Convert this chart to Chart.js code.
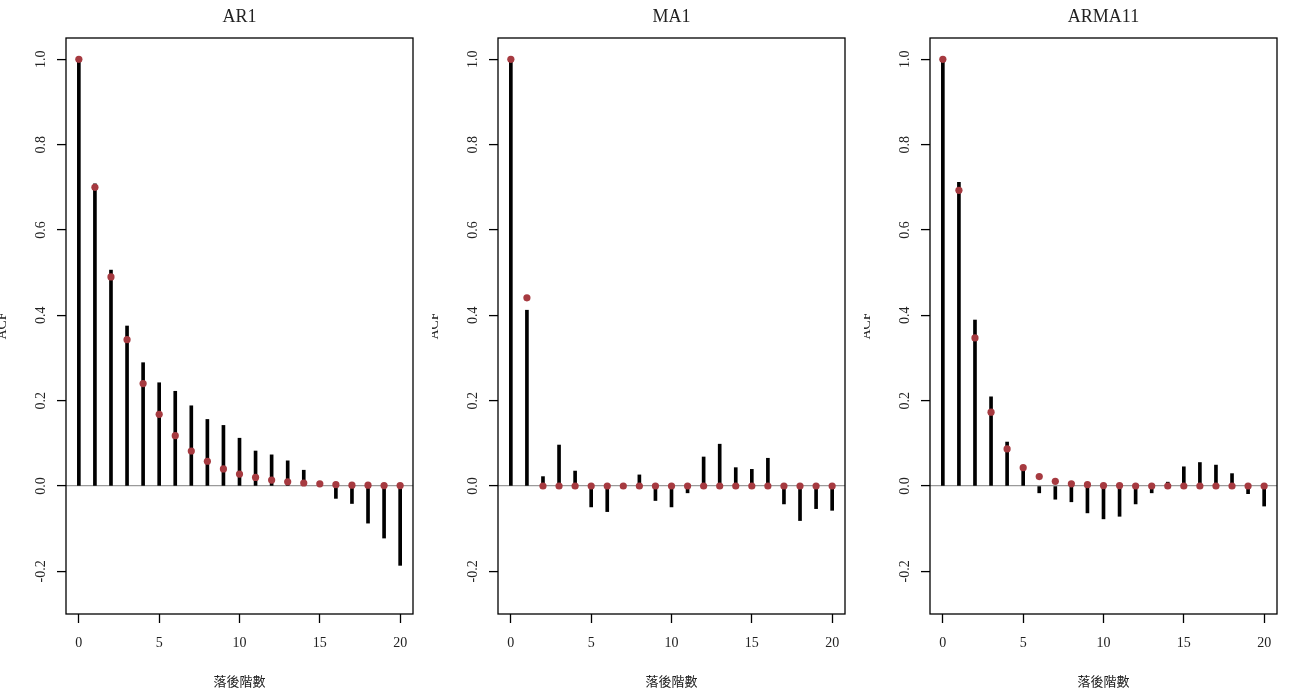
<!DOCTYPE html>
<html>
<head>
<meta charset="utf-8">
<script src="https://cdn.jsdelivr.net/npm/chart.js@4.4.1/dist/chart.umd.min.js"></script>
<style>
    html, body { margin: 0; padding: 0; background: #fff; }
    #wrap { position: relative; width: 1296px; height: 691px; overflow: hidden; }
    #wrap canvas { position: absolute; top: 0; }
</style>
</head>
<body>
<div id="wrap">
    <canvas id="acf-ar1" width="432" height="691" style="left:0px"></canvas>
    <canvas id="acf-ma1" width="432" height="691" style="left:432px"></canvas>
    <canvas id="acf-arma11" width="432" height="691" style="left:864px"></canvas>
</div>
<script>
    // lags and values
    var lags = [0, 1, 2, 3, 4, 5, 6, 7, 8, 9, 10, 11, 12, 13, 14, 15, 16, 17, 18, 19, 20];

    var ar1Sample = [1, 0.708, 0.506, 0.375, 0.289, 0.242, 0.222, 0.188, 0.156, 0.142, 0.112,
                     0.082, 0.073, 0.059, 0.037, 0.003, -0.029, -0.041, -0.087, -0.122, -0.186];
    var ar1Theory = [1, 0.7, 0.49, 0.343, 0.24, 0.168, 0.118, 0.082, 0.058, 0.04, 0.028,
                     0.02, 0.014, 0.01, 0.007, 0.005, 0.003, 0.002, 0.002, 0.001, 0.001];

    var ma1Sample = [1, 0.412, 0.022, 0.096, 0.035, -0.049, -0.06, 0.002, 0.026, -0.034, -0.049,
                     -0.016, 0.068, 0.098, 0.043, 0.039, 0.065, -0.042, -0.081, -0.053, -0.057];
    var ma1Theory = [1, 0.441, 0, 0, 0, 0, 0, 0, 0, 0, 0,
                     0, 0, 0, 0, 0, 0, 0, 0, 0, 0];

    var arma11Sample = [1, 0.712, 0.389, 0.209, 0.103, 0.043, -0.016, -0.031, -0.037, -0.063, -0.077,
                        -0.071, -0.042, -0.016, 0.009, 0.045, 0.055, 0.049, 0.029, -0.018, -0.047];
    var arma11Theory = [1, 0.693, 0.347, 0.173, 0.087, 0.043, 0.022, 0.011, 0.005, 0.003, 0.001,
                        0.001, 0, 0, 0, 0, 0, 0, 0, 0, 0];

    var xTicks = [0, 5, 10, 15, 20];
    var yTicks = [-0.2, 0, 0.2, 0.4, 0.6, 0.8, 1.0];

    var panelTitles = ['AR1', 'MA1', 'ARMA11'];
    var yTitle = 'ACF';
    var xTitle = '落後階數';

    var SERIF = "'Liberation Serif', 'DejaVu Serif', serif";
    var CJK = "'Noto Sans CJK TC', 'Noto Sans CJK SC', sans-serif";
    var DOT_RED = '#a63a40';
    var TEXT = '#222';

    // R style box round the plot region
    var boxPlugin = {
        id: 'plotBox',
        afterDatasetsDraw: function(chart){
            var a = chart.chartArea;
            var ctx = chart.ctx;
            ctx.save();
            ctx.strokeStyle = '#000';
            ctx.lineWidth = 1.3;
            ctx.strokeRect(a.left, a.top, a.right - a.left, a.bottom - a.top);
            ctx.restore();
        }
    };

    function toPoints(values){
        return lags.map(function(lag, i){
            return { x: lag, y: values[i] };
        });
    }

    function buildChart(canvasId, title, sample, theory){
        var ctx = document.getElementById(canvasId).getContext('2d');
        return new Chart(ctx, {
            type: 'bar',
            data: {
                datasets: [
                    {
                        type: 'scatter',
                        data: toPoints(theory),
                        backgroundColor: DOT_RED,
                        borderWidth: 0,
                        pointRadius: 3.6,
                        showLine: false,
                        order: 0
                    },
                    {
                        type: 'bar',
                        data: toPoints(sample),
                        backgroundColor: '#000',
                        borderWidth: 0,
                        barThickness: 3,
                        order: 1
                    }
                ]
            },
            options: {
                responsive: false,
                animation: false,
                events: [],
                layout: { padding: { left: 0, right: 19, top: 0, bottom: 0 } },
                plugins: {
                    legend: { display: false },
                    tooltip: { enabled: false },
                    title: {
                        display: true,
                        fullSize: false,
                        text: title,
                        color: TEXT,
                        font: { family: SERIF, size: 18, weight: 'normal' },
                        padding: { top: 6, bottom: 10.4 }
                    }
                },
                scales: {
                    x: {
                        type: 'linear',
                        min: -0.8,
                        max: 20.8,
                        offset: false,
                        border: { display: false },
                        grid: {
                            offset: false,
                            drawOnChartArea: false,
                            drawTicks: true,
                            tickLength: 9,
                            tickColor: '#000',
                            tickWidth: 1.3
                        },
                        afterBuildTicks: function(scale){
                            scale.ticks = xTicks.map(function(v){ return { value: v }; });
                        },
                        afterFit: function(scale){
                            scale.height = 77;
                        },
                        ticks: {
                            color: TEXT,
                            padding: 12,
                            maxRotation: 0,
                            font: { family: SERIF, size: 14 },
                            callback: function(value){ return String(value); }
                        },
                        title: {
                            display: true,
                            text: xTitle,
                            color: TEXT,
                            font: { family: CJK, size: 13 },
                            padding: { top: 0, bottom: 2 }
                        }
                    },
                    y: {
                        type: 'linear',
                        min: -0.3,
                        max: 1.05,
                        border: { display: false },
                        grid: {
                            drawOnChartArea: true,
                            drawTicks: true,
                            tickLength: 9,
                            tickColor: '#000',
                            tickWidth: 1.3,
                            color: function(c){
                                return (c.tick && c.tick.value === 0) ? '#9a9a9a' : 'rgba(0,0,0,0)';
                            },
                            lineWidth: 1.2
                        },
                        afterBuildTicks: function(scale){
                            scale.ticks = yTicks.map(function(v){ return { value: v }; });
                        },
                        afterFit: function(scale){
                            scale.width = 66;
                        },
                        ticks: {
                            color: TEXT,
                            padding: 5,
                            minRotation: 90,
                            maxRotation: 90,
                            crossAlign: 'center',
                            font: { family: SERIF, size: 14 },
                            callback: function(value){ return Number(value).toFixed(1); }
                        },
                        title: {
                            display: true,
                            text: yTitle,
                            color: TEXT,
                            font: { family: SERIF, size: 14 },
                            padding: { top: -5.6, bottom: 0 }
                        }
                    }
                }
            },
            plugins: [boxPlugin]
        });
    }

    buildChart('acf-ar1', panelTitles[0], ar1Sample, ar1Theory);
    buildChart('acf-ma1', panelTitles[1], ma1Sample, ma1Theory);
    buildChart('acf-arma11', panelTitles[2], arma11Sample, arma11Theory);
</script>
</body>
</html>
